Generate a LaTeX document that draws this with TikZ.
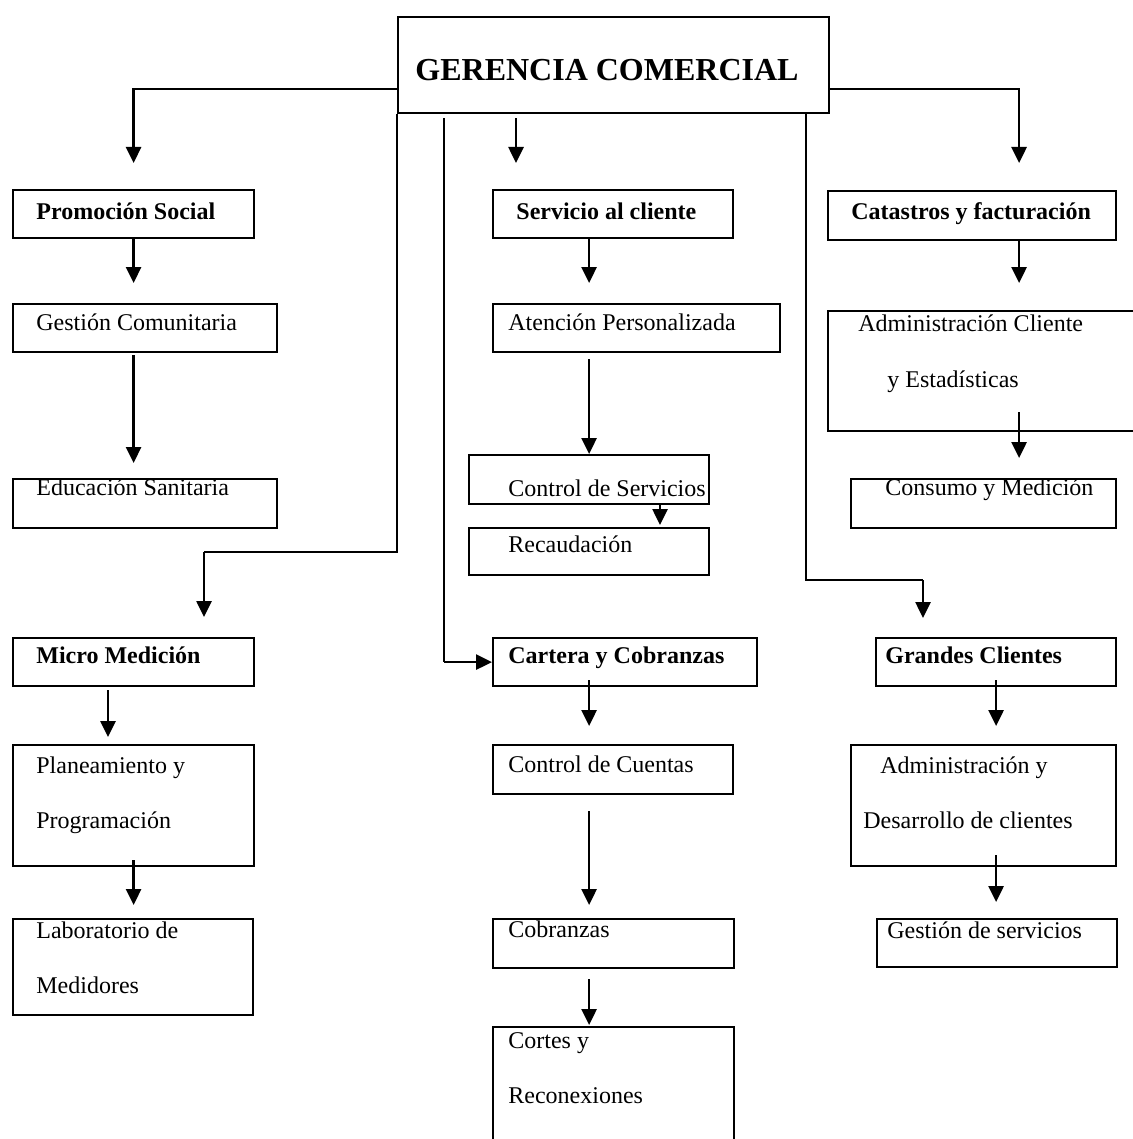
\documentclass[tikz,border=0pt]{standalone}
\usepackage{fontspec}
\setmainfont{Liberation Serif}
\usepackage{tikz}
\usetikzlibrary{positioning,arrows.meta,calc}
\tikzset{
  box/.style={draw, line width=1.1pt, anchor=north west, inner sep=0pt},
  txt/.style={anchor=base west, inner sep=0pt, font=\fontsize{12}{14}\selectfont},
  txtb/.style={txt, font=\fontsize{12}{14}\selectfont\bfseries},
  flecha/.style={-{Triangle[length=8pt,width=7.5pt]}, line width=1.3pt},
  linea/.style={line width=0.8pt},
}
\begin{document}
\begin{tikzpicture}[x=0.5pt, y=-0.5pt]
    \useasboundingbox (0,0) rectangle (1133,1139);
    \node[box, minimum width=215.5pt, minimum height=48pt] (ger) at (397,16) {};
    \node[box, minimum width=120.5pt, minimum height=24pt] (ps) at (12,189) {};
    \node[box, minimum width=132pt, minimum height=24pt] (gcm) at (12,303) {};
    \node[box, minimum width=132pt, minimum height=24.5pt] (es) at (12,478) {};
    \node[box, minimum width=120pt, minimum height=24pt] (sc) at (492,189) {};
    \node[box, minimum width=143.5pt, minimum height=24pt] (ap) at (492,303) {};
    \node[box, minimum width=120pt, minimum height=24.5pt] (csv) at (468,454) {};
    \node[box, minimum width=120pt, minimum height=23.5pt] (rec) at (468,527) {};
    \node[box, minimum width=144pt, minimum height=24.5pt] (cf) at (827,190) {};
    \node[box, minimum width=160pt, minimum height=60pt] (ac) at (827,310) {};
    \node[box, minimum width=132.5pt, minimum height=24.5pt] (cm) at (850,478) {};
    \node[box, minimum width=120.5pt, minimum height=24pt] (mm) at (12,637) {};
    \node[box, minimum width=120.5pt, minimum height=60.5pt] (pp) at (12,744) {};
    \node[box, minimum width=120pt, minimum height=48pt] (lab) at (12,918) {};
    \node[box, minimum width=132pt, minimum height=24pt] (cc) at (492,637) {};
    \node[box, minimum width=120pt, minimum height=24.5pt] (ccu) at (492,744) {};
    \node[box, minimum width=120.5pt, minimum height=24.5pt] (cob) at (492,918) {};
    \node[box, minimum width=120.5pt, minimum height=65pt] (cor) at (492,1026) {};
    \node[box, minimum width=120pt, minimum height=24pt] (gcl) at (875,637) {};
    \node[box, minimum width=132.5pt, minimum height=60.5pt] (ad) at (850,744) {};
    \node[box, minimum width=120pt, minimum height=24pt] (gs) at (876,918) {};

    \node[txtb, font=\fontsize{16}{19}\selectfont\bfseries] (ger-t) at (415,81) {GERENCIA COMERCIAL};
    \node[txtb] (ps-t) at (36,220) {Promoción Social};
    \node[txtb] (sc-t) at (516,220) {Servicio al cliente};
    \node[txtb] (cf-t) at (851,220) {Catastros y facturación};
    \node[txt] (gcm-t) at (36,330) {Gestión Comunitaria};
    \node[txt] (ap-t) at (508,330) {Atención Personalizada};
    \node[txt] (ac-t1) at (858,331) {Administración Cliente};
    \node[txt] (ac-t2) at (887,387) {y Estadísticas};
    \node[txt] (es-t) at (36,495) {Educación Sanitaria};
    \node[txt] (csv-t) at (508,496) {Control de Servicios};
    \node[txt] (cm-t) at (885,495) {Consumo y Medición};
    \node[txt] (rec-t) at (508,552) {Recaudación};
    \node[txtb] (mm-t) at (36,663) {Micro Medición};
    \node[txtb] (cc-t) at (508,663) {Cartera y Cobranzas};
    \node[txtb] (gcl-t) at (885,663) {Grandes Clientes};
    \node[txt] (pp-t1) at (36,773) {Planeamiento y};
    \node[txt] (pp-t2) at (36,828) {Programación};
    \node[txt] (ccu-t) at (508,772) {Control de Cuentas};
    \node[txt] (ad-t1) at (880,773) {Administración y};
    \node[txt] (ad-t2) at (863,828) {Desarrollo de clientes};
    \node[txt] (lab-t1) at (36,938) {Laboratorio de};
    \node[txt] (lab-t2) at (36,993) {Medidores};
    \node[txt] (cob-t) at (508,937) {Cobranzas};
    \node[txt] (gs-t) at (887,938) {Gestión de servicios};
    \node[txt] (cor-t1) at (508,1048) {Cortes y};
    \node[txt] (cor-t2) at (508,1103) {Reconexiones};

    \coordinate (colS) at ([xshift=12pt]sc.north west);
    \coordinate (colC) at (csv.north);
    \coordinate (colR) at ([xshift=96pt]rec.north west);
    \coordinate (colF) at ([xshift=23.5pt]cf.north);
    \coordinate (colMa) at ([xshift=96pt]mm.north west);
    \coordinate (colMb) at ([xshift=48pt]mm.north west);
    \coordinate (colG) at ([xshift=24pt]gcl.north west);
    \coordinate (c1) at ([xshift=23.5pt]ger.south west);
    \coordinate (t1) at ([yshift=-219pt]ger.south west);
    \coordinate (t2) at ([xshift=-12pt, yshift=-233pt]ger.south east);

    \draw[flecha, shorten >=13pt] ([yshift=-12pt]ger.west) -| (ps.north);
    \draw[flecha, shorten >=13.5pt] ([yshift=-12pt]ger.east) -| (colF);
    \draw[flecha, shorten <=2pt, shorten >=13pt] (colS |- ger.south) -- (colS);
    \draw[linea, shorten <=2pt] (c1) -- (c1 |- cc.west);
    \draw[flecha] (c1 |- cc.west) -- (cc.west);
    \draw[linea] (ger.south west) -- (t1) -- (t1 -| colMa);
    \draw[flecha, shorten >=10pt] (t1 -| colMa) -- (colMa);
    \draw[linea] (ger.south east -| t2) -- (t2) -- (t2 -| colG);
    \draw[flecha, shorten >=9.5pt] (t2 -| colG) -- (colG);

    \draw[flecha, shorten >=10pt] (ps.south) -- (ps.south |- gcm.north);
    \draw[flecha, shorten <=1pt, shorten >=7.5pt] (ps.south |- gcm.south) -- (ps.south |- es.north);
    \draw[flecha, shorten >=10pt] (colC |- sc.south) -- (colC |- ap.north);
    \draw[flecha, shorten <=3pt] (colC |- ap.south) -- (csv.north);
    \draw[flecha, shorten <=-1pt, shorten >=1pt] (colR |- csv.south) -- (colR);
    \draw[flecha, shorten >=13.5pt] (colF |- cf.south) -- (colF |- ac.north);
    \draw[flecha, shorten <=-10pt, shorten >=10pt] (colF |- ac.south) -- (colF |- cm.north);
    \draw[flecha, shorten <=1.5pt, shorten >=3.5pt] (colMb |- mm.south) -- (colMb |- pp.north);
    \draw[flecha, shorten <=-3.5pt, shorten >=6.5pt] (ps.south |- pp.south) -- (ps.south |- lab.north);
    \draw[flecha, shorten <=-3.5pt, shorten >=9pt] (colC |- cc.south) -- (colC |- ccu.north);
    \draw[flecha, shorten <=8pt, shorten >=6.5pt] (colC |- ccu.south) -- (colC |- cob.north);
    \draw[flecha, shorten <=5pt, shorten >=0.5pt] (colC |- cob.south) -- (colC |- cor.north);
    \draw[flecha, shorten <=-3.5pt, shorten >=9pt] (gcl.south) -- (gcl.south |- ad.north);
    \draw[flecha, shorten <=-6pt, shorten >=8pt] (gcl.south |- ad.south) -- (gcl.south |- gs.north);
  \end{tikzpicture}
\end{document}
